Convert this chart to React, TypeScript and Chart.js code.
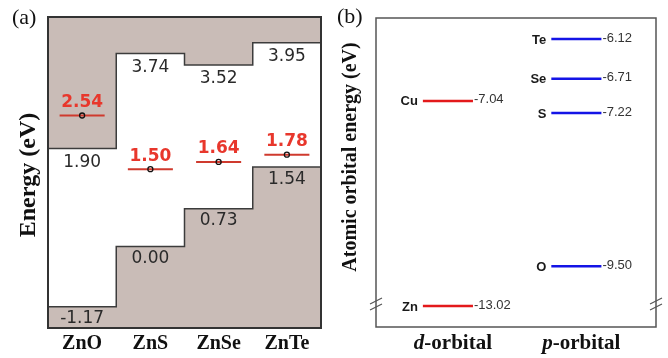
import React, { useEffect, useRef } from 'react';
import { Chart, registerables } from 'chart.js';

Chart.register(...registerables);

// ---------- Panel (a) data ----------
const compounds = ['ZnO', 'ZnS', 'ZnSe', 'ZnTe'];
const cbmEnergies = [1.9, 3.74, 3.52, 3.95];
const vbmEnergies = [-1.17, 0.0, 0.73, 1.54];
const cuLevelEnergies = [2.54, 1.5, 1.64, 1.78];

// ---------- Panel (b) data ----------
const orbitalLabels = ['d', 'p'];
const dElements = ['Cu', 'Zn'];
const dEnergies = [-7.04, -13.02];
const pElements = ['Te', 'Se', 'S', 'O'];
const pEnergies = [-6.12, -6.71, -7.22, -9.5];

const SERIF = '"Liberation Serif", "Times New Roman", serif';
const SANS_A = '"DejaVu Sans", Verdana, sans-serif';
const SANS_B = '"Liberation Sans", Arial, sans-serif';

const AXIS_BREAK = -10.06; // upper segment of broken axis ends here

function stepData(vals: number[]) {
  const pts = vals.map((v, i) => ({ x: i, y: v }));
  pts.push({ x: vals.length, y: vals[vals.length - 1] });
  return pts;
}

function levelSegments(centers: number[], vals: number[], hw: number) {
  const out: { x: number; y: number | null }[] = [];
  vals.forEach((v, i) => {
    out.push({ x: centers[i] - hw, y: v }, { x: centers[i] + hw, y: v }, { x: centers[i], y: null });
  });
  return out;
}

const panelAPlugin = {
  id: 'panelA',
  afterDatasetsDraw(chart: any) {
    const { ctx, chartArea, scales } = chart;
    const xs = scales.x;
    const ys = scales.y;
    ctx.save();
    // frame
    ctx.strokeStyle = '#333';
    ctx.lineWidth = 2;
    ctx.strokeRect(chartArea.left, chartArea.top, chartArea.right - chartArea.left, chartArea.bottom - chartArea.top);
    ctx.textAlign = 'center';
    ctx.textBaseline = 'middle';
    // band edge values
    ctx.fillStyle = '#2a2a2a';
    ctx.font = `17px ${SANS_A}`;
    compounds.forEach((_, i) => {
      const cx = xs.getPixelForValue(i + 0.5);
      ctx.fillText(cbmEnergies[i].toFixed(2), cx, ys.getPixelForValue(cbmEnergies[i]) + 14);
      ctx.fillText(vbmEnergies[i].toFixed(2), cx, ys.getPixelForValue(vbmEnergies[i]) + 12);
    });
    // Cu levels
    ctx.fillStyle = '#e8372c';
    ctx.font = `bold 17px ${SANS_A}`;
    compounds.forEach((_, i) => {
      const cx = xs.getPixelForValue(i + 0.5);
      ctx.fillText(cuLevelEnergies[i].toFixed(2), cx, ys.getPixelForValue(cuLevelEnergies[i]) - 13);
    });
    // panel letter
    ctx.fillStyle = '#111';
    ctx.textAlign = 'left';
    ctx.font = `22px ${SERIF}`;
    ctx.fillText('(a)', 12, 18);
    // y title
    ctx.save();
    ctx.translate(29, 175);
    ctx.rotate(-Math.PI / 2);
    ctx.textAlign = 'center';
    ctx.font = `bold 24px ${SERIF}`;
    ctx.fillText('Energy (eV)', 0, 0);
    ctx.restore();
    ctx.restore();
  },
};

const panelBPlugin = {
  id: 'panelB',
  afterDatasetsDraw(chart: any) {
    const { ctx, chartArea, scales } = chart;
    const xs = scales.x;
    const yU = scales.y;
    const yL = scales.y2;
    const yOf = (v: number) => (v > AXIS_BREAK ? yU.getPixelForValue(v) : yL.getPixelForValue(v));
    ctx.save();
    ctx.strokeStyle = '#555';
    ctx.lineWidth = 1.5;
    ctx.strokeRect(chartArea.left, chartArea.top, chartArea.right - chartArea.left, chartArea.bottom - chartArea.top);
    // axis break marks
    const yb = yU.bottom;
    ctx.lineWidth = 1.2;
    [chartArea.left, chartArea.right].forEach((x) => {
      [yb - 3, yb + 3].forEach((y) => {
        ctx.beginPath();
        ctx.moveTo(x - 6, y + 3);
        ctx.lineTo(x + 6, y - 3);
        ctx.stroke();
      });
    });
    const hw = 0.195;
    const drawLabels = (xc: number, names: string[], vals: number[]) => {
      names.forEach((n, i) => {
        const y = yOf(vals[i]);
        const xl = xs.getPixelForValue(xc - hw);
        const xr = xs.getPixelForValue(xc + hw);
        ctx.textBaseline = 'middle';
        ctx.fillStyle = '#1a1a1a';
        ctx.textAlign = 'right';
        ctx.font = `bold 13px ${SANS_B}`;
        ctx.fillText(n, xl - 5, y + 1);
        ctx.fillStyle = '#333';
        ctx.textAlign = 'left';
        ctx.font = `13px ${SANS_B}`;
        ctx.fillText(vals[i].toFixed(2), xr + 1, y - 1);
      });
    };
    drawLabels(0, dElements, dEnergies);
    drawLabels(1, pElements, pEnergies);
    // category labels (italic letter + "-orbital")
    ctx.fillStyle = '#111';
    ctx.textBaseline = 'middle';
    ctx.textAlign = 'left';
    orbitalLabels.forEach((l, i) => {
      const fi = `italic bold 21px ${SERIF}`;
      const fb = `bold 21px ${SERIF}`;
      ctx.font = fi;
      const w1 = ctx.measureText(l).width;
      ctx.font = fb;
      const w2 = ctx.measureText('-orbital').width;
      const cx = xs.getPixelForValue(i) + 5;
      const x0 = cx - (w1 + w2) / 2;
      ctx.font = fi;
      ctx.fillText(l, x0, 344);
      ctx.font = fb;
      ctx.fillText('-orbital', x0 + w1, 344);
    });
    // panel letter
    ctx.font = `22px ${SERIF}`;
    ctx.fillText('(b)', 3, 17);
    // y title
    ctx.save();
    ctx.translate(17, 157);
    ctx.rotate(-Math.PI / 2);
    ctx.textAlign = 'center';
    ctx.font = `bold 20px ${SERIF}`;
    ctx.fillText('Atomic orbital energy (eV)', 0, 0);
    ctx.restore();
    ctx.restore();
  },
};

function makeConfigA(): any {
  const centers = compounds.map((_, i) => i + 0.5);
  return {
    type: 'line',
    data: {
      datasets: [
        {
          label: 'Cu level marker',
          data: centers.map((c, i) => ({ x: c, y: cuLevelEnergies[i] })),
          showLine: false,
          pointRadius: 2.5,
          pointBorderColor: '#111',
          pointBackgroundColor: 'rgba(0,0,0,0)',
          pointBorderWidth: 1.3,
          order: 0,
        },
        {
          label: 'Cu level',
          data: levelSegments(centers, cuLevelEnergies, 0.33),
          borderColor: '#cf3a2e',
          borderWidth: 2,
          pointRadius: 0,
          spanGaps: false,
          fill: false,
          order: 1,
        },
        {
          label: 'CBM',
          data: stepData(cbmEnergies),
          stepped: 'before',
          fill: 'end',
          backgroundColor: '#c9bcb7',
          borderColor: '#3c3c3c',
          borderWidth: 1.5,
          pointRadius: 0,
          order: 2,
        },
        {
          label: 'VBM',
          data: stepData(vbmEnergies),
          stepped: 'before',
          fill: 'start',
          backgroundColor: '#c9bcb7',
          borderColor: '#3c3c3c',
          borderWidth: 1.5,
          pointRadius: 0,
          order: 3,
        },
      ],
    },
    options: {
      animation: false,
      responsive: false,
      layout: { padding: { left: 48, right: 13, top: 17, bottom: 0 } },
      plugins: { legend: { display: false }, tooltip: { enabled: false }, title: { display: false } },
      scales: {
        x: {
          type: 'linear',
          min: 0,
          max: compounds.length,
          grid: { display: false, drawTicks: false },
          border: { display: false },
          afterBuildTicks: (s: any) => {
            s.ticks = centers.map((v) => ({ value: v }));
          },
          afterFit: (s: any) => {
            s.height = 30;
          },
          ticks: {
            autoSkip: false,
            maxRotation: 0,
            padding: 4,
            color: '#111',
            font: { family: SERIF, size: 20, weight: 'bold' },
            callback: (_v: any, i: number) => compounds[i],
          },
        },
        y: { type: 'linear', display: false, min: -1.58, max: 4.45 },
      },
    },
    plugins: [panelAPlugin],
  };
}

function makeConfigB(): any {
  const hw = 0.195;
  const dUpperIdx = dEnergies.map((v, i) => i).filter((i) => dEnergies[i] > AXIS_BREAK);
  const dLowerIdx = dEnergies.map((v, i) => i).filter((i) => dEnergies[i] <= AXIS_BREAK);
  return {
    type: 'line',
    data: {
      datasets: [
        {
          label: 'd upper',
          data: levelSegments(dUpperIdx.map(() => 0), dUpperIdx.map((i) => dEnergies[i]), hw),
          borderColor: '#e3191b',
          borderWidth: 2.5,
          pointRadius: 0,
          yAxisID: 'y',
        },
        {
          label: 'd lower',
          data: levelSegments(dLowerIdx.map(() => 0), dLowerIdx.map((i) => dEnergies[i]), hw),
          borderColor: '#e3191b',
          borderWidth: 2.5,
          pointRadius: 0,
          yAxisID: 'y2',
        },
        {
          label: 'p',
          data: levelSegments(pEnergies.map(() => 1), pEnergies, hw),
          borderColor: '#1414e6',
          borderWidth: 2.5,
          pointRadius: 0,
          yAxisID: 'y',
        },
      ],
    },
    options: {
      animation: false,
      responsive: false,
      layout: { padding: { left: 42, right: 12, top: 18, bottom: 31 } },
      plugins: { legend: { display: false }, tooltip: { enabled: false } },
      scales: {
        x: { type: 'linear', display: false, min: -0.56, max: 1.62 },
        y2: { type: 'linear', display: false, min: -13.33, max: -12.99, stack: 'e', stackWeight: 23 },
        y: { type: 'linear', display: false, min: AXIS_BREAK, max: -5.807, stack: 'e', stackWeight: 286 },
      },
    },
    plugins: [panelBPlugin],
  };
}

export default function App() {
  const refA = useRef<HTMLCanvasElement>(null);
  const refB = useRef<HTMLCanvasElement>(null);
  useEffect(() => {
    const a = new Chart(refA.current as HTMLCanvasElement, makeConfigA());
    const b = new Chart(refB.current as HTMLCanvasElement, makeConfigB());
    return () => {
      a.destroy();
      b.destroy();
    };
  }, []);
  return (
    <div style={{ position: 'absolute', left: 0, top: 0, width: 668, height: 358, background: '#fff' }}>
      <canvas ref={refA} width={334} height={358} style={{ position: 'absolute', left: 0, top: 0 }} />
      <canvas ref={refB} width={334} height={358} style={{ position: 'absolute', left: 334, top: 0 }} />
    </div>
  );
}
